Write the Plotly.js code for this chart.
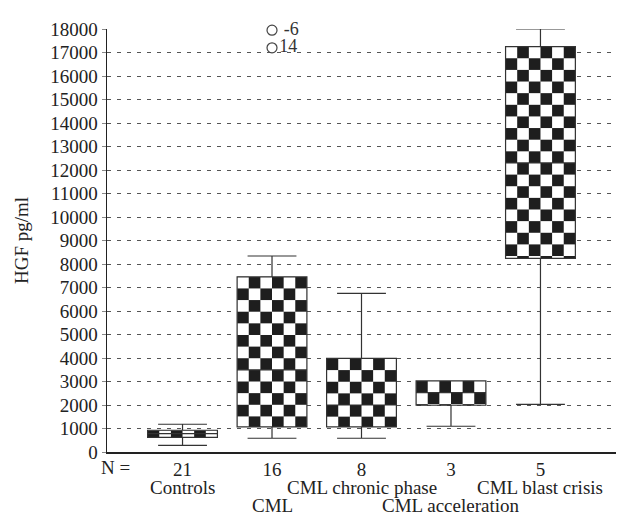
<!DOCTYPE html>
<html>
<head>
<meta charset="utf-8">
<script src="https://cdn.plot.ly/plotly-3.0.1.min.js"></script>
<style>
  html, body { margin: 0; padding: 0; background: #fff; }
  #chart { width: 622px; height: 516px; }
</style>
</head>
<body>
<div id="chart"></div>
<script>
// ---- data ----
const categories = ['Controls', 'CML', 'CML chronic phase', 'CML acceleration', 'CML blast crisis'];
const counts = [21, 16, 8, 3, 5];
const lowerWhisker = [285, 585, 585, 1095, 2030];
const q1Values = [625, 1065, 1065, 1990, 8240];
const medianValues = [780, 3495, 2000, 2530, 12300];
const q3Values = [925, 7455, 3980, 3025, 17250];
const upperWhisker = [1180, 8340, 6750, 3025, 18000];
const outlierValues = [17950, 17200];
const outlierLabels = [' -6', '14'];
const outlierCategory = 1;
const yTickValues = [0, 1000, 2000, 3000, 4000, 5000, 6000, 7000, 8000, 9000,
  10000, 11000, 12000, 13000, 14000, 15000, 16000, 17000, 18000];

// ---- style ----
const checkerStartDark = [true, false, true, true, false];
const FONT = 'Liberation Serif, Times New Roman, serif';
const positions = categories.map((_, i) => i);
const nameRowShift = [-35, -53, -35, -53, -35]; // staggered label rows (px below axis)

const boxTrace = {
  type: 'box',
  x: positions,
  q1: q1Values,
  median: medianValues,
  q3: q3Values,
  lowerfence: lowerWhisker,
  upperfence: upperWhisker,
  boxpoints: false,
  width: 0.78,
  whiskerwidth: 0.7,
  fillcolor: '#ffffff',
  line: { color: '#333333', width: 1.2 },
  hoverinfo: 'skip',
  showlegend: false
};

const outlierTrace = {
  type: 'scatter',
  mode: 'markers+text',
  x: outlierValues.map(() => outlierCategory),
  y: outlierValues,
  text: outlierLabels,
  textposition: 'middle right',
  textfont: { family: FONT, size: 18, color: '#333' },
  marker: { symbol: 'circle-open', size: 10, color: '#444', line: { width: 1.2, color: '#444' } },
  cliponaxis: false,
  showlegend: false,
  hoverinfo: 'skip'
};

const nameAnnotations = categories.map((c, i) => ({
  xref: 'x', yref: 'paper', x: positions[i], y: 0, yshift: nameRowShift[i],
  text: c, showarrow: false, xanchor: 'center', yanchor: 'middle',
  font: { family: FONT, size: 19, color: '#222' }
}));

const layout = {
  width: 622,
  height: 516,
  margin: { l: 107, r: 6, t: 29, b: 64 },
  paper_bgcolor: '#ffffff',
  plot_bgcolor: '#ffffff',
  font: { family: FONT, color: '#222' },
  showlegend: false,
  xaxis: {
    range: [-0.844, 4.844],
    tickmode: 'array',
    tickvals: positions,
    ticktext: counts.map(String),
    tickangle: 0,
    tickfont: { family: FONT, size: 19, color: '#222' },
    showgrid: false,
    zeroline: false,
    showline: true,
    linecolor: '#222',
    linewidth: 1.5,
    ticks: '',
    automargin: false
  },
  yaxis: {
    range: [0, 18000],
    tickmode: 'array',
    tickvals: yTickValues,
    ticktext: yTickValues.map(String),
    tickfont: { family: FONT, size: 19, color: '#222' },
    showgrid: true,
    gridcolor: '#555',
    gridwidth: 1,
    griddash: '4px,6px',
    zeroline: false,
    showline: true,
    linecolor: '#222',
    linewidth: 1.5,
    ticks: 'outside',
    ticklen: 4,
    tickcolor: '#888',
    automargin: false,
    title: { text: 'HGF pg/ml', font: { family: FONT, size: 19, color: '#222' }, standoff: 16 }
  },
  annotations: [{
    xref: 'paper', yref: 'paper', x: 0.016, y: 0, yshift: -15,
    text: 'N =', showarrow: false, xanchor: 'center', yanchor: 'middle',
    font: { family: FONT, size: 19, color: '#222' }
  }].concat(nameAnnotations)
};

function applyCheckers(gd) {
  const ns = 'http://www.w3.org/2000/svg';
  const svg = gd.querySelector('svg.main-svg');
  if (!svg) return;
  let defs = svg.querySelector('defs');
  if (!defs) { defs = document.createElementNS(ns, 'defs'); svg.insertBefore(defs, svg.firstChild); }
  const ya = gd._fullLayout.yaxis;
  const paths = gd.querySelectorAll('g.trace.boxes path.box');
  paths.forEach((p, i) => {
    const bb = p.getBBox();
    const cols = 6;
    const cell = bb.width / cols;
    const top = ya.c2p(q3Values[i]);
    const id = 'checker' + i;
    const old = defs.querySelector('#' + id);
    if (old) old.remove();
    const pat = document.createElementNS(ns, 'pattern');
    pat.setAttribute('id', id);
    pat.setAttribute('patternUnits', 'userSpaceOnUse');
    pat.setAttribute('x', bb.x);
    pat.setAttribute('y', top);
    pat.setAttribute('width', 2 * cell);
    pat.setAttribute('height', 2 * cell);
    const bg = document.createElementNS(ns, 'rect');
    bg.setAttribute('width', 2 * cell); bg.setAttribute('height', 2 * cell);
    bg.setAttribute('fill', '#ffffff');
    pat.appendChild(bg);
    const cellsDark = checkerStartDark[i] ? [[0, 0], [1, 1]] : [[1, 0], [0, 1]];
    cellsDark.forEach(([cx, cy]) => {
      const r = document.createElementNS(ns, 'rect');
      r.setAttribute('x', cx * cell); r.setAttribute('y', cy * cell);
      r.setAttribute('width', cell); r.setAttribute('height', cell);
      r.setAttribute('fill', '#1e1e1e');
      pat.appendChild(r);
    });
    defs.appendChild(pat);
    p.style.fill = 'url(#' + id + ')';
    p.style.fillOpacity = 1;
  });
}

const gd = document.getElementById('chart');
Plotly.newPlot(gd, [boxTrace, outlierTrace], layout, { staticPlot: true, displayModeBar: false })
  .then(() => applyCheckers(gd));
gd.on && gd.on('plotly_afterplot', () => applyCheckers(gd));
</script>
</body>
</html>
